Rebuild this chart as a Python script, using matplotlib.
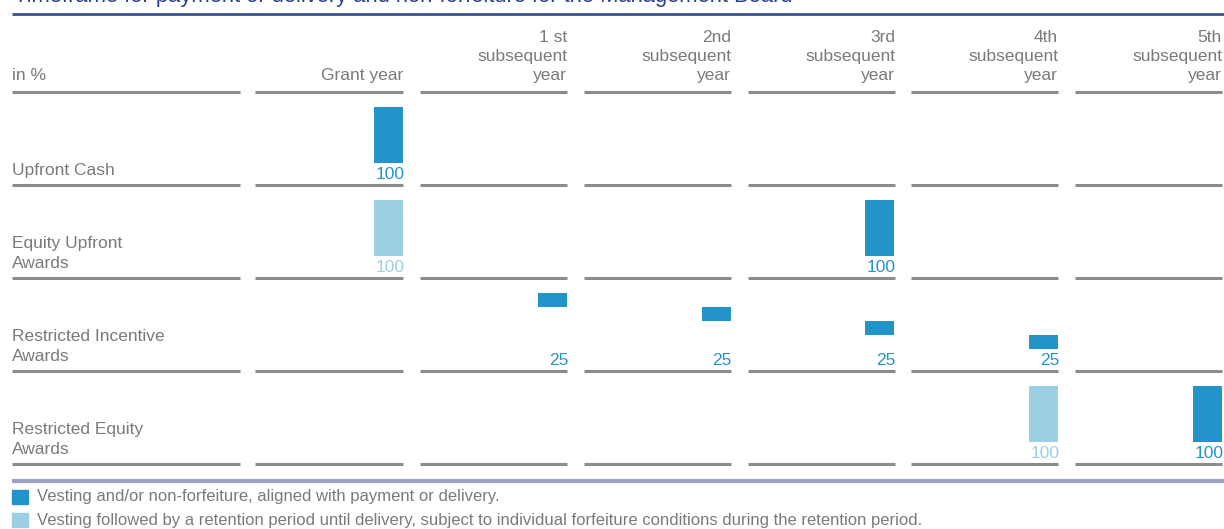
import matplotlib
matplotlib.use("Agg")
import matplotlib.pyplot as plt

plt.rcParams['font.family'] = ['Liberation Sans', 'DejaVu Sans']

# data
title = "Timeframe for payment or delivery and non-forfeiture for the Management Board"
columns = ["Grant year", "1 st\nsubsequent\nyear", "2nd\nsubsequent\nyear",
           "3rd\nsubsequent\nyear", "4th\nsubsequent\nyear", "5th\nsubsequent\nyear"]
rows = ["Upfront Cash", "Equity Upfront\nAwards", "Restricted Incentive\nAwards",
        "Restricted Equity\nAwards"]
upfront_cash = [100, 0, 0, 0, 0, 0]
equity_upfront = [100, 0, 0, 100, 0, 0]
restricted_incentive = [0, 25, 25, 25, 25, 0]
restricted_equity = [0, 0, 0, 0, 100, 100]
# "v" = vesting aligned with payment, "r" = vesting followed by retention
upfront_cash_kind = ["v", "", "", "", "", ""]
equity_upfront_kind = ["r", "", "", "v", "", ""]
restricted_incentive_kind = ["", "v", "v", "v", "v", ""]
restricted_equity_kind = ["", "", "", "", "r", "v"]
legend_labels = ["Vesting and/or non-forfeiture, aligned with payment or delivery.",
                 "Vesting followed by a retention period until delivery, subject to individual forfeiture conditions during the retention period."]

values = [upfront_cash, equity_upfront, restricted_incentive, restricted_equity]
kinds = [upfront_cash_kind, equity_upfront_kind, restricted_incentive_kind, restricted_equity_kind]

DARK = '#2394cb'
LIGHT = '#9bd0e4'
GREY_TXT = '#7a7a7a'
LINE = '#8c8c8c'
colors = {"v": DARK, "r": LIGHT}

W, H = 1224, 529
fig = plt.figure(figsize=(W / 100, H / 100), dpi=100)

# background axes in pixel coords for the table layout
bg = fig.add_axes([0, 0, 1, 1])
bg.set_xlim(0, W)
bg.set_ylim(H, 0)
bg.axis('off')

# title is cropped at the top edge like in the source
bg.text(14, 2, title, fontsize=15.8, color='#2b3f8f', va='baseline', ha='left')
bg.plot([12, 1224], [14, 14], color='#3a4f9a', lw=2, solid_capstyle='butt')

col_spans = [(12, 240), (255, 403), (420, 567), (584, 731), (748, 895), (911, 1058), (1075, 1222)]
row_lines = [92, 185, 278, 371, 464]
for y in row_lines:
    for x0, x1 in col_spans:
        bg.plot([x0, x1], [y, y], color=LINE, lw=2.2, solid_capstyle='butt')
bg.plot([12, 1224], [481, 481], color='#9aa3c5', lw=3, solid_capstyle='butt')

fs = 12.5
bg.text(12, 83, "in %", fontsize=fs, color=GREY_TXT, va='bottom', ha='left')
for (x0, x1), lab in zip(col_spans[1:], columns):
    bg.text(x1, 83, lab, fontsize=fs, color=GREY_TXT, va='bottom', ha='right',
            linespacing=1.33)
for y, lab in zip(row_lines[1:], rows):
    bg.text(12, y - 7, lab, fontsize=fs, color=GREY_TXT, va='bottom', ha='left',
            linespacing=1.4)

# bar axes, one per row; x in column units, y in percent
step = 163.8
first_center = 388.5
xlim = (-first_center / step, (W - first_center) / step)
bar_w = 29 / step
for r, (vals, kd) in enumerate(zip(values, kinds)):
    L = row_lines[r + 1]
    top, bottom = L - 78, L - 22
    ax = fig.add_axes([0, 1 - bottom / H, 1, (bottom - top) / H])
    ax.set_xlim(*xlim)
    ax.set_ylim(0, 100)
    ax.axis('off')
    cum = {"v": 0, "r": 0}
    for i, (v, k) in enumerate(zip(vals, kd)):
        if not v:
            continue
        cum[k] += v
        ax.bar(i, v, bottom=100 - cum[k], width=bar_w, color=colors[k], align='center')
        ax.annotate(str(v), (i + bar_w / 2, 0), xytext=(1, -8), textcoords='offset points',
                    ha='right', va='center', fontsize=fs, color=colors[k],
                    annotation_clip=False)

# legend
for y, lab, c in zip([497, 520], legend_labels, [DARK, LIGHT]):
    bg.add_patch(plt.Rectangle((12, y - 7), 16, 14, color=c))
    bg.text(37, y, lab, fontsize=fs * 0.96, color=GREY_TXT, va='center', ha='left')

fig.savefig("out.png", dpi=100)
